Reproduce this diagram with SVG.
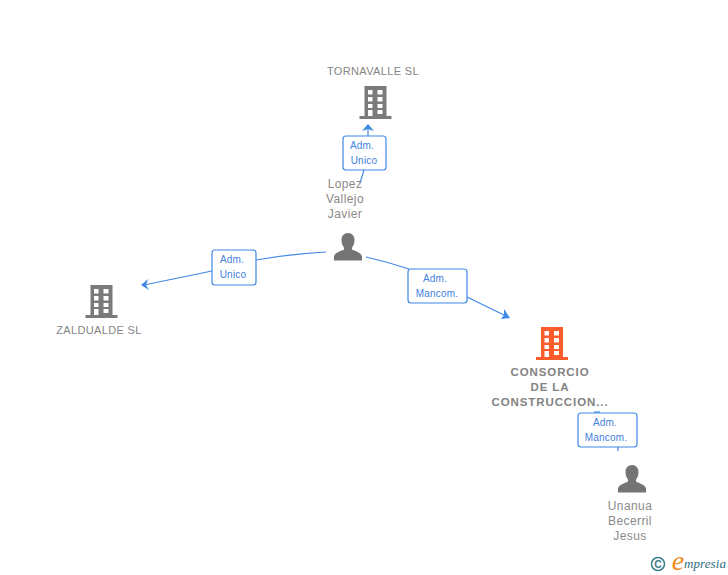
<svg xmlns="http://www.w3.org/2000/svg" xmlns:xlink="http://www.w3.org/1999/xlink" width="728" height="575" viewBox="0 0 728 575">
<style>
text{font-family:"Liberation Sans",Arial,sans-serif;text-anchor:middle}
.n{font-size:11px;fill:#858585;letter-spacing:.36px}
.p{font-size:12px;fill:#8a8a8a;letter-spacing:.4px}
.b{font-size:11.5px;font-weight:700;fill:#828282;letter-spacing:.9px}
.e{font-size:10px;fill:#3f80e0;letter-spacing:.2px}
.box{fill:#fff;stroke:#3f88e6;stroke-width:1.2}
.c{fill:none;stroke:#3f88e6;stroke-width:1.2}
.a{fill:#3f88e6}
</style>
<defs>
<g id="bld">
<path d="M5 0H27V30H32V33H0V30H5ZM8.500 4V8.500H13V4ZM18 4V8.500H23V4ZM8.500 11V15.500H13V11ZM18 11V15.500H23V11ZM8.500 18V22H13V18ZM18 18V22H23V18ZM8.500 24V30H13V24ZM18 24V28H23V24Z" fill-rule="evenodd"/>
</g>
<g id="psn">
<path d="M14 0C18 0 20.500 3 20.500 7C20.500 10 19.500 12.500 18 14.500V16.500C20 18 27 19 28 23.500V27.500H0V23.500C1 19 8 18 10 16.500V14.500C8.500 12.500 7.500 10 7.500 7C7.500 3 10 0 14 0Z"/>
</g>
</defs>
<g id="connectors">
<path class="c" d="M360 183Q364 172 366 160"/><path class="c" d="M368 136V126"/>
<path class="a" d="M368 124L374 131L368 129L362 131Z"/>
<path class="c" d="M326 252Q290 254 256 260"/><path class="c" d="M212 271L144 285"/>
<path class="a" d="M141 285L148 279L146 285L149 290Z"/>
<path class="c" d="M366 257Q388 262 409 269"/><path class="c" d="M467 297L508 317"/>
<path class="a" d="M510 318L501 319L504 315L504 309Z"/>
<path class="c" d="M594 412H600"/><path class="c" d="M618 447V451"/>
</g>
<g id="node-tornavalle">
<text class="n" x="373" y="75">TORNAVALLE SL</text>
<use xlink:href="#bld" x="359.500" y="86" fill="#7a7a7a"/>
</g>
<g id="node-lopez">
<text class="p" x="345" y="188">Lopez</text>
<text class="p" x="345" y="203">Vallejo</text>
<text class="p" x="345" y="218">Javier</text>
<use xlink:href="#psn" x="334" y="233" fill="#747474"/>
</g>
<g id="node-zaldualde">
<use xlink:href="#bld" x="85.500" y="285" fill="#7a7a7a"/>
<text class="n" x="99" y="334">ZALDUALDE SL</text>
</g>
<g id="node-consorcio">
<use xlink:href="#bld" x="536" y="327" fill="#ff5c2e"/>
<text class="b" x="550" y="376">CONSORCIO</text>
<text class="b" x="550" y="391">DE LA</text>
<text class="b" x="550" y="406">CONSTRUCCION...</text>
</g>
<g id="node-unanua">
<use xlink:href="#psn" x="618" y="465" fill="#747474"/>
<text class="p" x="630" y="510">Unanua</text>
<text class="p" x="630" y="525">Becerril</text>
<text class="p" x="630" y="540">Jesus</text>
</g>
<g id="edge-label-1">
<rect class="box" x="343" y="136" width="43" height="34" rx="3"/>
<text class="e" x="362" y="149">Adm.</text><text class="e" x="364" y="164">Unico</text>
</g>
<g id="edge-label-2">
<rect class="box" x="212" y="250" width="44" height="35" rx="3"/>
<text class="e" x="232" y="263">Adm.</text><text class="e" x="233" y="278">Unico</text>
</g>
<g id="edge-label-3">
<rect class="box" x="408" y="269" width="59" height="34" rx="3"/>
<text class="e" x="435" y="282">Adm.</text><text class="e" x="437" y="297">Mancom.</text>
</g>
<g id="edge-label-4">
<rect class="box" x="578" y="413" width="59" height="34" rx="3"/>
<text class="e" x="605" y="426">Adm.</text><text class="e" x="606" y="441">Mancom.</text>
</g>
<g id="brand">
<circle cx="658" cy="564" r="6.500" fill="none" stroke="#3a7d8c" stroke-width="1.500"/>
<text x="658" y="568" style="font-size:10.500px;fill:#3a7d8c;font-weight:700">C</text>
<text x="678" y="570" style="font-family:'Liberation Serif',serif;font-size:28px;font-style:italic;fill:#f08a1d">e</text>
<text x="705" y="568" style="font-family:'Liberation Serif',serif;font-size:13px;font-style:italic;fill:#2d6d7d;letter-spacing:.1px">mpresia</text>
</g>
</svg>
